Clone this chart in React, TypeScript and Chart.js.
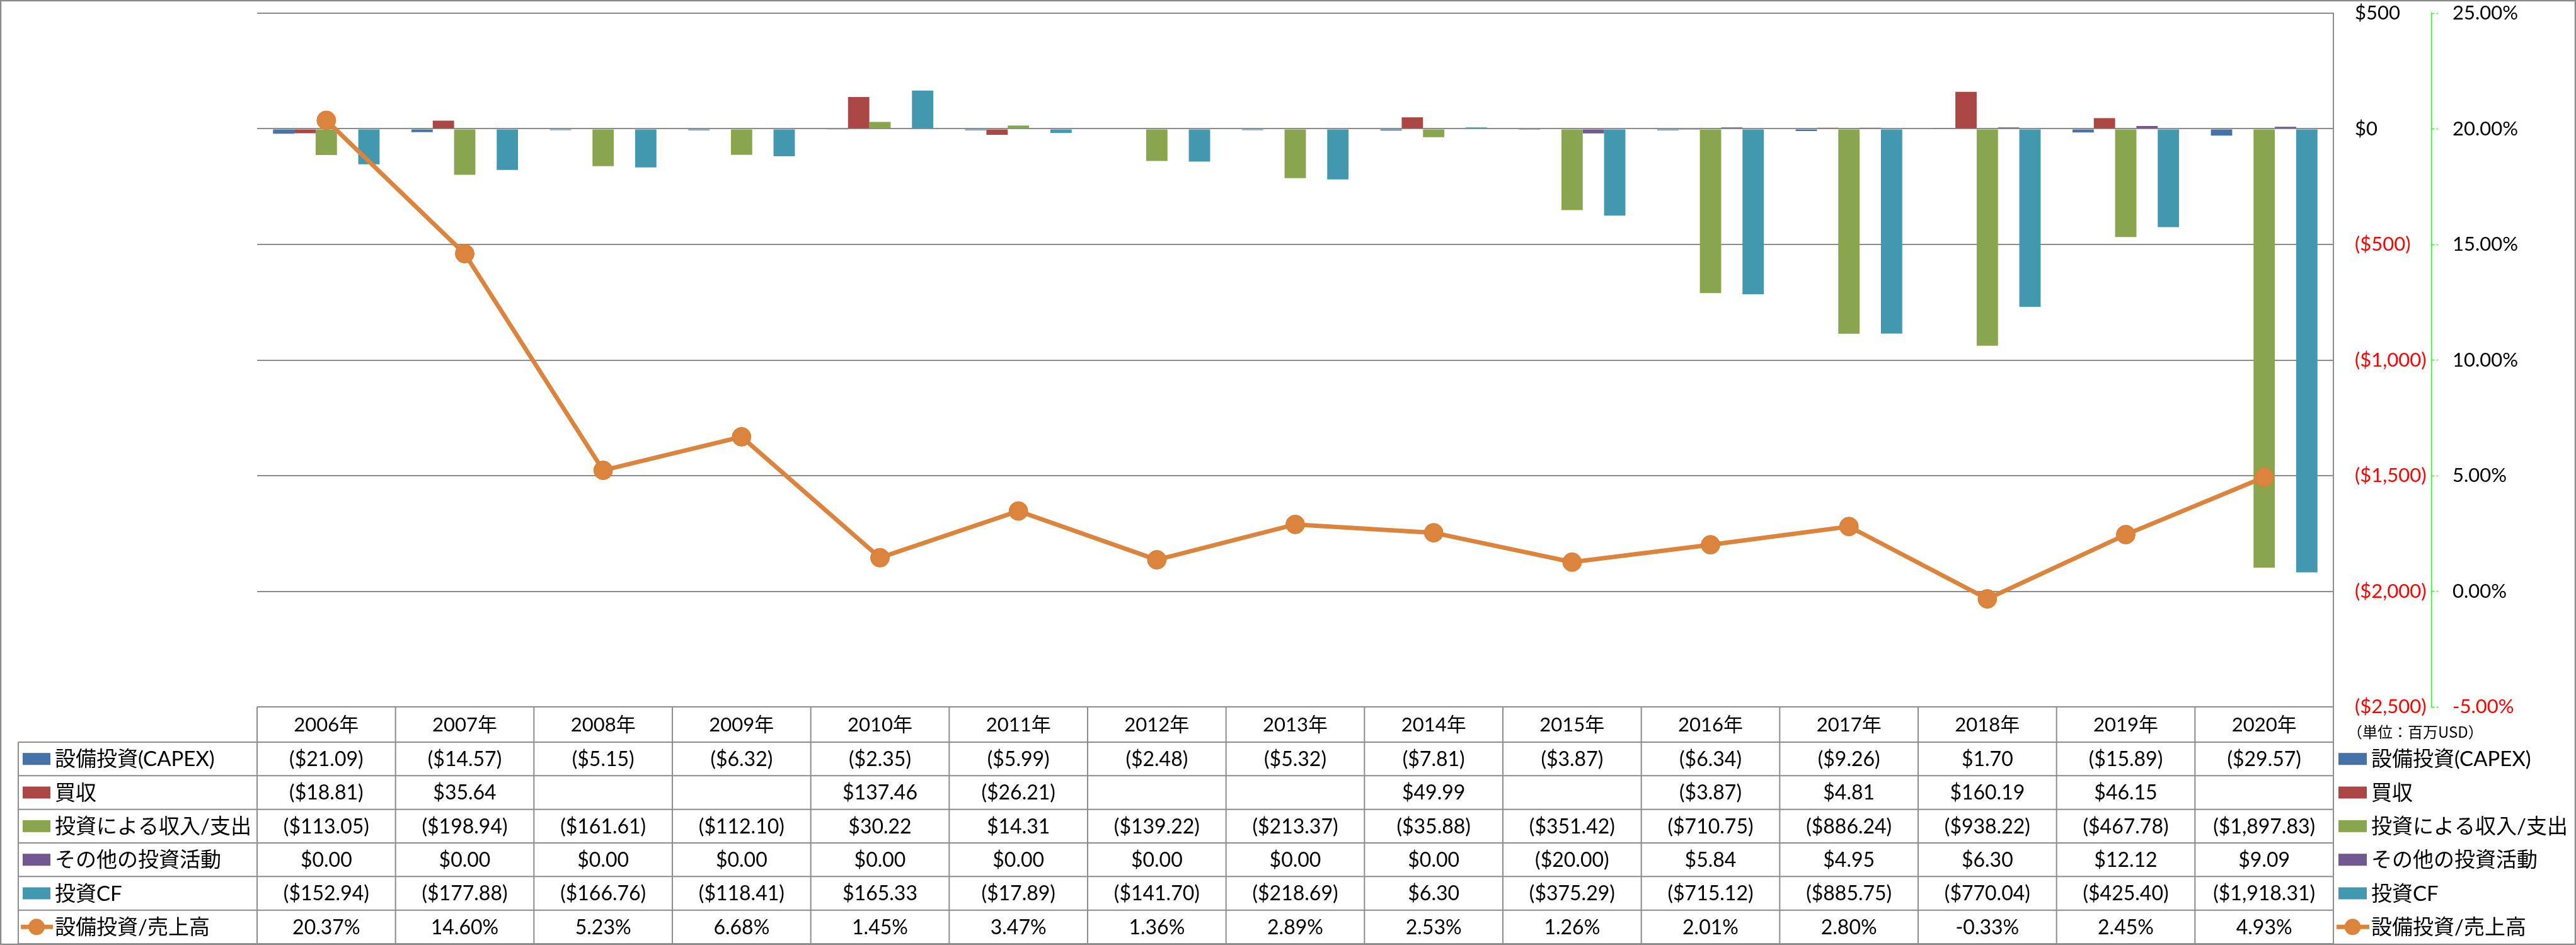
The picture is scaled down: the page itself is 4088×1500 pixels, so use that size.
import React, { useEffect, useRef } from 'react';
import { Chart, registerables } from 'chart.js';

Chart.register(...registerables);

const years = ['2006年', '2007年', '2008年', '2009年', '2010年', '2011年', '2012年', '2013年', '2014年', '2015年', '2016年', '2017年', '2018年', '2019年', '2020年'];
const capex = [-21.09, -14.57, -5.15, -6.32, -2.35, -5.99, -2.48, -5.32, -7.81, -3.87, -6.34, -9.26, 1.70, -15.89, -29.57];
const acquisitions = [-18.81, 35.64, null, null, 137.46, -26.21, null, null, 49.99, null, -3.87, 4.81, 160.19, 46.15, null];
const investIncome = [-113.05, -198.94, -161.61, -112.10, 30.22, 14.31, -139.22, -213.37, -35.88, -351.42, -710.75, -886.24, -938.22, -467.78, -1897.83];
const otherInvest = [0, 0, 0, 0, 0, 0, 0, 0, 0, -20.00, 5.84, 4.95, 6.30, 12.12, 9.09];
const investCF = [-152.94, -177.88, -166.76, -118.41, 165.33, -17.89, -141.70, -218.69, 6.30, -375.29, -715.12, -885.75, -770.04, -425.40, -1918.31];
const capexRatio = [20.37, 14.60, 5.23, 6.68, 1.45, 3.47, 1.36, 2.89, 2.53, 1.26, 2.01, 2.80, -0.33, 2.45, 4.93];

const seriesNames = ['設備投資(CAPEX)', '買収', '投資による収入/支出', 'その他の投資活動', '投資CF', '設備投資/売上高'];
const seriesColors = ['#4572A7', '#AA4643', '#89A54E', '#71588F', '#4198AF', '#DB843D'];
const unitLabel = '（単位：百万USD）';

const FONT_FAMILY = 'Lato, "Noto Sans CJK JP", sans-serif';
const GRID = '#8c8c8c';

const fmtMoney = (v: number | null) => {
  if (v === null || v === undefined) return '';
  const s = Math.abs(v).toLocaleString('en-US', { minimumFractionDigits: 2, maximumFractionDigits: 2 });
  return v < 0 ? `($${s})` : `$${s}`;
};
const fmtMoneyTick = (v: number) => {
  const s = Math.abs(v).toLocaleString('en-US');
  return v < 0 ? `($${s})` : `$${s}`;
};
const fmtPct = (v: number) => `${v.toFixed(2)}%`;

const tablePlugin = {
  id: 'dataTable',
  afterDraw(chart: any) {
    const ctx = chart.ctx as CanvasRenderingContext2D;
    const area = chart.chartArea;
    const xs = chart.scales.x;
    const n = years.length;
    const colW = (area.right - area.left) / n;
    const top = area.bottom;
    const headerH = 56;
    const rowTop = top + headerH;
    const bottom = 1498;
    const rowH = (bottom - rowTop) / 6;
    const tableLeft = 29;

    ctx.save();
    ctx.strokeStyle = GRID;
    ctx.lineWidth = 2;
    const line = (x1: number, y1: number, x2: number, y2: number) => {
      ctx.beginPath();
      ctx.moveTo(x1, y1);
      ctx.lineTo(x2, y2);
      ctx.stroke();
    };
    line(area.left, top, area.right, top);
    for (let r = 0; r <= 6; r++) {
      line(tableLeft, rowTop + r * rowH, area.right, rowTop + r * rowH);
    }
    line(tableLeft, rowTop, tableLeft, bottom);
    for (let i = 0; i <= n; i++) {
      const xx = area.left + i * colW;
      line(xx, i === n ? area.top : top, xx, bottom);
    }

    // header
    ctx.fillStyle = '#000';
    ctx.textAlign = 'center';
    ctx.textBaseline = 'middle';
    ctx.font = `31px ${FONT_FAMILY}`;
    years.forEach((y, i) => {
      ctx.fillText(y, xs.getPixelForValue(i), top + headerH / 2 + 1);
    });

    const rows: string[][] = [
      capex.map(fmtMoney),
      acquisitions.map(fmtMoney),
      investIncome.map(fmtMoney),
      otherInvest.map(fmtMoney),
      investCF.map(fmtMoney),
      capexRatio.map(fmtPct),
    ];
    ctx.font = `32px ${FONT_FAMILY}`;
    rows.forEach((row, r) => {
      const cy = rowTop + r * rowH + rowH / 2 + 1;
      row.forEach((txt, i) => {
        ctx.fillText(txt, xs.getPixelForValue(i), cy);
      });
    });

    // legend keys (left and right)
    const drawKey = (r: number, sx: number, tx: number, boxW: number) => {
      const cy = rowTop + r * rowH + rowH / 2;
      const col = seriesColors[r];
      if (r < 5) {
        ctx.fillStyle = col;
        ctx.fillRect(sx, cy - 9.5, boxW, 19);
      } else {
        ctx.strokeStyle = col;
        ctx.lineWidth = 7;
        ctx.beginPath();
        ctx.moveTo(sx - 3, cy);
        ctx.lineTo(sx + boxW + 4, cy);
        ctx.stroke();
        ctx.fillStyle = col;
        ctx.beginPath();
        ctx.arc(sx + boxW / 2, cy, 13, 0, Math.PI * 2);
        ctx.fill();
      }
      ctx.fillStyle = '#000';
      ctx.textAlign = 'left';
      ctx.font = `33px ${FONT_FAMILY}`;
      ctx.fillText(seriesNames[r], tx, cy + 1);
    };
    for (let r = 0; r < 6; r++) {
      drawKey(r, 36, 87, 44);
      drawKey(r, area.right + 8, area.right + 60, 45);
    }

    ctx.fillStyle = '#000';
    ctx.textAlign = 'left';
    ctx.font = `24px "Noto Sans CJK JP", sans-serif`;
    ctx.fillText(unitLabel, area.right + 22, top + 40);

    // outer frame
    ctx.strokeStyle = GRID;
    ctx.lineWidth = 2.5;
    ctx.strokeRect(1, 1, chart.width - 2, chart.height - 2);
    ctx.restore();
  },
};

export default function App() {
  const ref = useRef<HTMLCanvasElement | null>(null);
  useEffect(() => {
    if (!ref.current) return;
    const barSeries = [capex, acquisitions, investIncome, otherInvest, investCF];
    const datasets: any[] = barSeries.map((d, i) => ({
      type: 'bar',
      label: seriesNames[i],
      data: d,
      backgroundColor: seriesColors[i],
      borderWidth: 0,
      yAxisID: 'y',
      categoryPercentage: 0.77,
      barPercentage: 1,
      order: 1,
    }));
    datasets.push({
      type: 'line',
      label: seriesNames[5],
      data: capexRatio,
      borderColor: seriesColors[5],
      backgroundColor: seriesColors[5],
      pointBackgroundColor: seriesColors[5],
      pointBorderColor: '#D97E34',
      pointBorderWidth: 1,
      pointRadius: 15,
      borderWidth: 7,
      tension: 0,
      yAxisID: 'y1',
      order: 0,
    });
    const chart = new Chart(ref.current, {
      type: 'bar',
      data: { labels: years, datasets },
      plugins: [tablePlugin],
      options: {
        responsive: false,
        animation: false,
        devicePixelRatio: 1,
        layout: { padding: { left: 408, top: 21, right: 0, bottom: 378 } },
        plugins: { legend: { display: false }, tooltip: { enabled: false } },
        scales: {
          x: { display: false, offset: true },
          y: {
            position: 'right',
            weight: 0,
            min: -2500,
            max: 500,
            afterFit: (s: any) => { s.width = 156; s.paddingTop = 0; s.paddingBottom = 0; },
            ticks: {
              stepSize: 500,
              padding: 34,
              font: { family: FONT_FAMILY, size: 31 },
              color: (c: any) => (c.tick && c.tick.value < 0 ? '#ff0000' : '#000000'),
              callback: (v: any) => fmtMoneyTick(Number(v)),
            },
            grid: { color: GRID, lineWidth: 2, drawTicks: false },
            border: { display: true, color: GRID, width: 2 },
          },
          y1: {
            position: 'right',
            weight: 1,
            min: -5,
            max: 25,
            afterFit: (s: any) => { s.width = 229; s.paddingTop = 0; s.paddingBottom = 0; },
            ticks: {
              stepSize: 5,
              padding: 23,
              font: { family: FONT_FAMILY, size: 31 },
              color: (c: any) => (c.tick && c.tick.value < 0 ? '#ff0000' : '#000000'),
              callback: (v: any) => fmtPct(Number(v)),
            },
            grid: {
              drawOnChartArea: false,
              drawTicks: true,
              tickLength: 10,
              tickColor: '#33ee33',
              tickWidth: 1.5,
              tickBorderDash: [4, 3],
            },
            border: { display: true, color: '#33ee33', width: 1.5, dash: [5, 3] },
          },
        },
      } as any,
    });
    return () => chart.destroy();
  }, []);
  return (
    <div style={{ position: 'absolute', left: 0, top: 0, width: 4088, height: 1500, background: '#fff' }}>
      <canvas ref={ref} width={4088} height={1500} style={{ display: 'block', width: 4088, height: 1500 }} />
    </div>
  );
}
